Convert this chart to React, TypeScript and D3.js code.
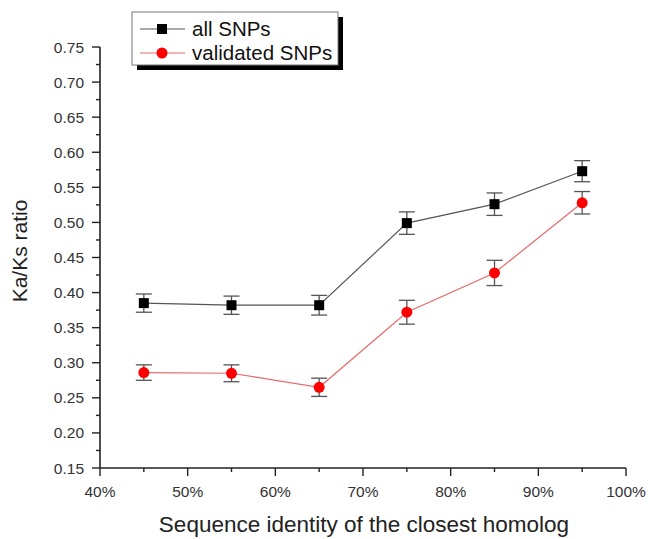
import React, { useEffect, useRef } from "react";
import * as d3 from "d3";

const xValues = [45, 55, 65, 75, 85, 95];
const allSNPs = [0.385, 0.382, 0.382, 0.499, 0.526, 0.573];
const allSNPsErr = [0.013, 0.013, 0.014, 0.016, 0.016, 0.015];
const validatedSNPs = [0.286, 0.285, 0.265, 0.372, 0.428, 0.528];
const validatedErr = [0.011, 0.012, 0.013, 0.017, 0.018, 0.016];
const yTicks = [0.15, 0.2, 0.25, 0.3, 0.35, 0.4, 0.45, 0.5, 0.55, 0.6, 0.65, 0.7, 0.75];
const xTicks = [40, 50, 60, 70, 80, 90, 100];
const legendLabels = ["all SNPs", "validated SNPs"];

const W = 648, H = 539;
const FONT = "Liberation Sans, Arial, sans-serif";

export default function App() {
  const ref = useRef<SVGSVGElement>(null);
  useEffect(() => {
    const svg = d3.select(ref.current);
    svg.selectAll("*").remove();
    const x = d3.scaleLinear().domain([40, 100]).range([100, 626]);
    const y = d3.scaleLinear().domain([0.15, 0.75]).range([468, 47]);

    // axes
    const g = svg.append("g");
    g.append("line").attr("x1", 100).attr("x2", 100).attr("y1", y(0.75)).attr("y2", y(0.15))
      .attr("stroke", "#222").attr("stroke-width", 1.6);
    g.append("line").attr("x1", 100).attr("x2", 626).attr("y1", 468).attr("y2", 468)
      .attr("stroke", "#222").attr("stroke-width", 1.6);

    // y ticks
    yTicks.forEach((t) => {
      g.append("line").attr("x1", 100).attr("x2", 92).attr("y1", y(t)).attr("y2", y(t))
        .attr("stroke", "#222").attr("stroke-width", 1.4);
      g.append("text").attr("x", 84).attr("y", y(t)).attr("dy", "0.36em")
        .attr("text-anchor", "end").attr("font-family", FONT).attr("font-size", 15.5)
        .attr("fill", "#333").text(t.toFixed(2));
    });
    for (let i = 0; i < yTicks.length - 1; i++) {
      const m = (yTicks[i] + yTicks[i + 1]) / 2;
      g.append("line").attr("x1", 100).attr("x2", 96).attr("y1", y(m)).attr("y2", y(m))
        .attr("stroke", "#222").attr("stroke-width", 1.4);
    }
    // x ticks
    xTicks.forEach((t) => {
      g.append("line").attr("x1", x(t)).attr("x2", x(t)).attr("y1", 468).attr("y2", 476)
        .attr("stroke", "#222").attr("stroke-width", 1.4);
      g.append("text").attr("x", x(t)).attr("y", 497)
        .attr("text-anchor", "middle").attr("font-family", FONT).attr("font-size", 15.5)
        .attr("fill", "#333").text(t + "%");
    });
    for (let i = 0; i < xTicks.length - 1; i++) {
      const m = (xTicks[i] + xTicks[i + 1]) / 2;
      g.append("line").attr("x1", x(m)).attr("x2", x(m)).attr("y1", 468).attr("y2", 472)
        .attr("stroke", "#222").attr("stroke-width", 1.4);
    }

    // axis titles
    svg.append("text").attr("x", 364).attr("y", 532).attr("text-anchor", "middle")
      .attr("font-family", FONT).attr("font-size", 22.5).attr("fill", "#222")
      .text("Sequence identity of the closest homolog");
    svg.append("text").attr("transform", "translate(27,251) rotate(-90)").attr("text-anchor", "middle")
      .attr("font-family", FONT).attr("font-size", 21).attr("fill", "#222")
      .text("Ka/Ks ratio");

    const drawSeries = (vals: number[], errs: number[], lineColor: string, marker: "square" | "circle", fill: string) => {
      const line = d3.line<number>().x((_, i) => x(xValues[i])).y((d) => y(d));
      svg.append("path").attr("d", line(vals)!).attr("fill", "none")
        .attr("stroke", lineColor).attr("stroke-width", 1.2);
      vals.forEach((v, i) => {
        const cx = x(xValues[i]);
        const eg = svg.append("g").attr("stroke", "#555").attr("stroke-width", 1.3);
        eg.append("line").attr("x1", cx).attr("x2", cx).attr("y1", y(v + errs[i])).attr("y2", y(v - errs[i]));
        [v + errs[i], v - errs[i]].forEach((e) => {
          eg.append("line").attr("x1", cx - 8).attr("x2", cx + 8).attr("y1", y(e)).attr("y2", y(e));
        });
      });
      vals.forEach((v, i) => {
        const cx = x(xValues[i]);
        if (marker === "square") {
          svg.append("rect").attr("x", cx - 5).attr("y", y(v) - 5).attr("width", 10).attr("height", 10).attr("fill", fill);
        } else {
          svg.append("circle").attr("cx", cx).attr("cy", y(v)).attr("r", 5.5).attr("fill", fill);
        }
      });
    };
    drawSeries(allSNPs, allSNPsErr, "#555", "square", "#000");
    drawSeries(validatedSNPs, validatedErr, "#e86a6a", "circle", "#ff0000");

    // legend
    const lg = svg.append("g");
    lg.append("rect").attr("x", 137).attr("y", 17).attr("width", 206).attr("height", 53).attr("fill", "#000");
    lg.append("rect").attr("x", 132).attr("y", 12).attr("width", 206).attr("height", 53)
      .attr("fill", "#fff").attr("stroke", "#777").attr("stroke-width", 1);
    const colors = [["#555", "#000"], ["#e86a6a", "#ff0000"]];
    legendLabels.forEach((lab, i) => {
      const ly = 29 + i * 24;
      lg.append("line").attr("x1", 140).attr("x2", 185).attr("y1", ly).attr("y2", ly)
        .attr("stroke", colors[i][0]).attr("stroke-width", 1.2);
      if (i === 0) {
        lg.append("rect").attr("x", 157).attr("y", ly - 5).attr("width", 10).attr("height", 10).attr("fill", colors[i][1]);
      } else {
        lg.append("circle").attr("cx", 162).attr("cy", ly).attr("r", 5.5).attr("fill", colors[i][1]);
      }
      lg.append("text").attr("x", 192).attr("y", ly).attr("dy", "0.36em")
        .attr("font-family", FONT).attr("font-size", 20.5).attr("fill", "#111").text(lab);
    });
  }, []);
  return (
    <div style={{ position: "absolute", left: 0, top: 0 }}>
      <svg ref={ref} width={W} height={H} style={{ display: "block", background: "#fff" }} />
    </div>
  );
}
